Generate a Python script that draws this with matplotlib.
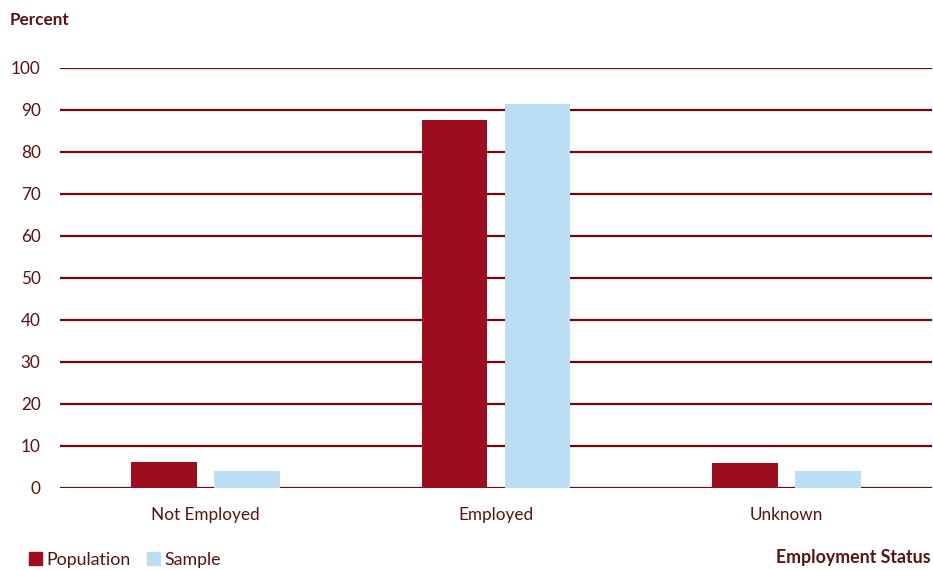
import matplotlib.pyplot as plt
import numpy as np
from matplotlib.patches import Patch

categories = ["Not Employed", "Employed", "Unknown"]
population = [6.1, 87.7, 6.0]
sample = [4.1, 91.4, 4.1]
yticks = [0, 10, 20, 30, 40, 50, 60, 70, 80, 90, 100]

pop_color = "#9E0C1F"
samp_color = "#BBDEF4"
grid_color = "#720808"
text_color = "#5A1212"

plt.rcParams["font.family"] = ["Lato", "DejaVu Sans"]

fig = plt.figure(figsize=(9.33, 5.7), dpi=100)
ax = fig.add_axes([60 / 933, (570 - 488) / 570, 872 / 933, 420 / 570])

x = np.arange(len(categories))
w = 0.226
off = 0.143
ax.bar(x - off, population, w, color=pop_color, zorder=3)
ax.bar(x + off, sample, w, color=samp_color, zorder=3)

ax.set_xlim(-0.5, 2.5)
ax.set_ylim(0, 100)
ax.set_yticks(yticks)
ax.set_xticks(x)
ax.set_xticklabels(categories)
for y in yticks:
    ax.axhline(y, color=grid_color, lw=1.6, zorder=2)

for s in ax.spines.values():
    s.set_visible(False)
ax.tick_params(length=0, colors=text_color, labelsize=12.3)
ax.tick_params(axis="y", pad=14)
ax.tick_params(axis="x", pad=14)

fig.text(10 / 933, 1 - 20 / 570, "Percent", fontsize=12.3, fontweight="bold",
         color=text_color, va="center")
fig.text(931 / 933, 1 - 558 / 570, "Employment Status", fontsize=12.8,
         fontweight="bold", color=text_color, va="center", ha="right")

# legend sits low at the bottom-left corner
handles = [Patch(color=pop_color, label="Population"),
           Patch(color=samp_color, label="Sample")]
fig.legend(handles=handles, loc="center left", bbox_to_anchor=(27 / 933, 1 - 560 / 570),
           ncol=2, frameon=False, fontsize=12.8, labelcolor=text_color,
           borderaxespad=0, borderpad=0.1,
           handlelength=0.75, handleheight=0.75, handletextpad=0.25, columnspacing=0.9)

fig.savefig("out.png", dpi=100)
